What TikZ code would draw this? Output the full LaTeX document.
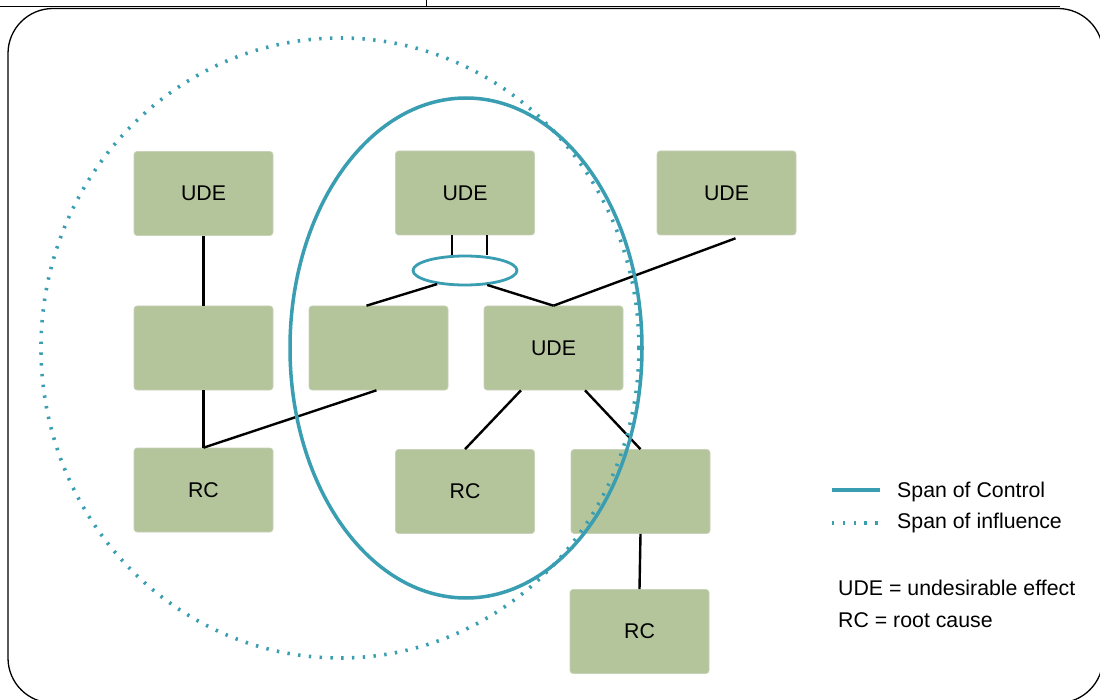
\documentclass[tikz,border=0pt]{standalone}
\usepackage{fontspec}
\setmainfont{Liberation Sans}
\usetikzlibrary{shapes.geometric}
\definecolor{boxgreen}{RGB}{180,196,155}
\definecolor{boxedge}{RGB}{200,210,185}
\definecolor{teal}{RGB}{58,158,178}
\tikzset{
  cbox/.style={fill=boxgreen, draw=boxedge, line width=0.6pt, rounded corners=3pt,
    minimum width=139pt, minimum height=84pt, inner sep=0pt,
    font=\fontsize{21.3}{25}\selectfont},
  conn/.style={draw=black, line width=2.4pt},
  ctrl/.style={draw=teal, line width=3.5pt},
  infl/.style={draw=teal, line width=3.6pt, dash pattern=on 2.4pt off 8.4pt},
  legtext/.style={anchor=west, inner sep=0pt, font=\fontsize{21.3}{25}\selectfont}
}
\begin{document}
\begin{tikzpicture}[x=1pt,y=-1pt]
\useasboundingbox (0,0) rectangle (1100,700);
\clip (0,0) rectangle (1100,700);
\fill[white] (0,0) rectangle (1100,700);
% frame
\draw[line width=1.3pt] (8,8.5) [rounded corners=45pt] -- (8,703) -- (1103,703) -- (1103,8.5) -- cycle;
\draw[line width=1pt] (0,7) -- (1060,7);
\draw[line width=1pt] (426,0) -- (426,7);

% boxes
\node[cbox] (u1) at (203.5,193.5) {UDE};
\node[cbox] (u2) at (465,193) {UDE};
\node[cbox] (u3) at (726.5,193) {UDE};
\node[cbox] (b1) at (203.5,348) {};
\node[cbox] (b2) at (378.5,348) {};
\node[cbox] (u4) at (553.5,348) {UDE};
\node[cbox] (rc1) at (203.5,490) {RC};
\node[cbox] (rc2) at (465,491.5) {RC};
\node[cbox] (b3) at (640.5,491.5) {};
\node[cbox] (rc3) at (639.5,631.5) {RC};
\node[ellipse, draw=teal, line width=2.8pt, fill=white, minimum width=104pt, minimum height=29pt, inner sep=0pt] (and) at (465,270.5) {};

% connectors
\draw[conn] (u1.south) -- (b1.north);
\draw[conn] (b1.south) -- (rc1.north);
\draw[conn] (rc1.north) -- ([xshift=-2pt]b2.south);
\draw[conn] ([xshift=-13pt]u2.south) -- ([xshift=-13pt]and.north);
\draw[conn] ([xshift=22pt]u2.south) -- ([xshift=22pt]and.north);
\draw[conn] (and.206) -- ([xshift=-12pt]b2.north);
\draw[conn] (and.327) -- (u4.north);
\draw[conn] (u4.north) -- ([xshift=9pt,yshift=-3pt]u3.south);
\draw[conn] ([xshift=-32.5pt]u4.south) -- (rc2.north);
\draw[conn] ([xshift=31.5pt]u4.south) -- (b3.north);
\draw[conn] (b3.south) -- (rc3.north);

% spans
\draw[infl] (340,348) ellipse [x radius=299pt, y radius=310pt];
\draw[ctrl] (466,348) ellipse [x radius=176pt, y radius=250pt];

% legend
\coordinate (la1) at (832,490);
\coordinate (la2) at (880,490);
\coordinate (lb1) at (832,523);
\coordinate (lb2) at (882,523);
\draw[teal, line width=4.5pt] (la1) -- (la2);
\draw[infl] (lb1) -- (lb2);
\node[legtext] (lt1) at (897,492) {Span of Control};
\node[legtext] (lt2) at (897,523) {Span of influence};
\node[legtext] (lt3) at (838,588) {UDE = undesirable effect};
\node[legtext] (lt4) at (838,620) {RC = root cause};
\end{tikzpicture}
\end{document}
